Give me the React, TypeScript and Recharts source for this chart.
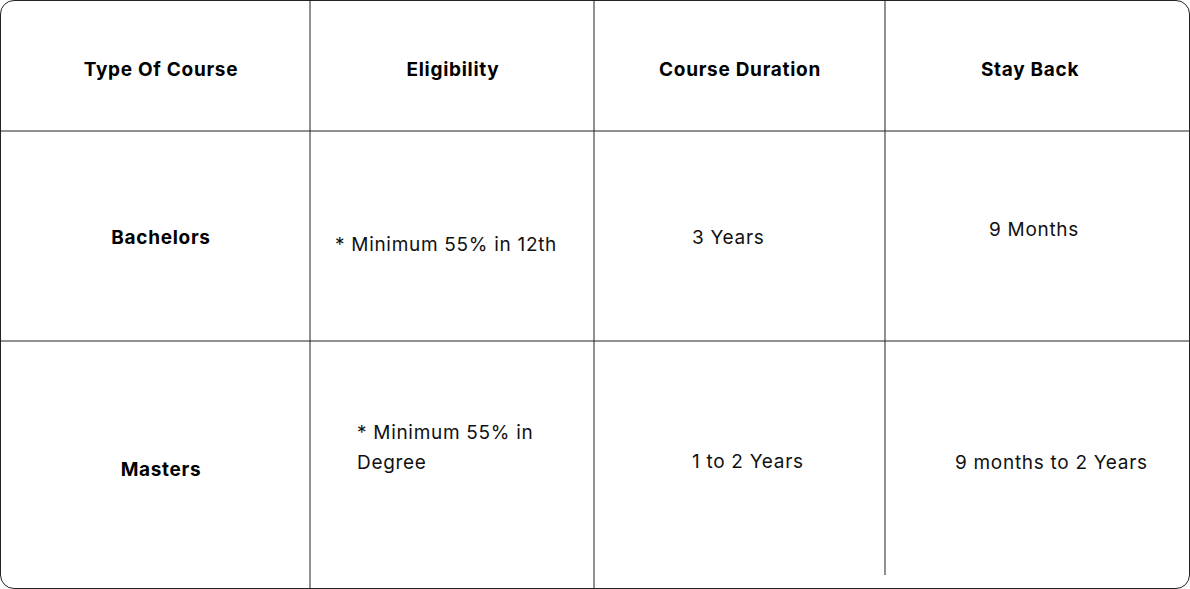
import { ComposedChart, XAxis, YAxis, Scatter, ReferenceLine } from 'recharts';

const W = 1190;
const H = 589;

// column dividers and row dividers (table units = pixels of the reference)
const columnLines = [310, 594, 885];
const rowLines = [131, 341];

const headers = ['Type Of Course', 'Eligibility', 'Course Duration', 'Stay Back'];
const headerX = [161, 453, 740, 1030];

const courses = ['Bachelors', 'Masters'];
const courseY = [237, 469];

const cells = [
  { x: 335, y: 244, text: '* Minimum 55% in 12th' },
  { x: 692, y: 237, text: '3 Years' },
  { x: 989, y: 229, text: '9 Months' },
  { x: 357, y: 432, text: '* Minimum 55% in' },
  { x: 357, y: 462, text: 'Degree' },
  { x: 692, y: 461, text: '1 to 2 Years' },
  { x: 955, y: 462, text: '9 months to 2 Years' },
];

const boldData = [
  ...headers.map((t, i) => ({ x: headerX[i], y: 69, text: t })),
  ...courses.map((t, i) => ({ x: 161, y: courseY[i], text: t })),
];

const FONT = 'Inter, "Open Sans", sans-serif';

const BoldText = (p: any) => (
  <text x={p.cx} y={p.cy} dy="0.35em" textAnchor="middle" fontFamily={FONT} fontWeight={700} fontSize={19} letterSpacing={0.7} fill="#000">
    {p.payload.text}
  </text>
);

const PlainText = (p: any) => (
  <text x={p.cx} y={p.cy} dy="0.35em" textAnchor="start" fontFamily={FONT} fontSize={19} letterSpacing={0.7} fill="#111">
    {p.payload.text}
  </text>
);

export default function App() {
  return (
    <div style={{ position: 'absolute', left: 0, top: 0, width: W, height: H, background: '#fff' }}>
      <div style={{ position: 'absolute', left: 0, top: 0, width: W - 2, height: H - 2, border: '1px solid #222', borderRadius: 14 }} />
      <ComposedChart width={W} height={H} margin={{ top: 0, right: 0, bottom: 0, left: 0 }}>
        <XAxis type="number" dataKey="x" domain={[0, W]} hide />
        <YAxis type="number" dataKey="y" domain={[0, H]} reversed hide />
        {columnLines.map((x, i) => (
          <ReferenceLine key={'c' + i} segment={[{ x, y: 0 }, { x, y: i === 2 ? 575 : H }]} stroke="#222" strokeWidth={1} />
        ))}
        {rowLines.map((y) => (
          <ReferenceLine key={'r' + y} y={y} stroke="#222" strokeWidth={1} />
        ))}
        <Scatter data={boldData} shape={BoldText} isAnimationActive={false} />
        <Scatter data={cells} shape={PlainText} isAnimationActive={false} />
      </ComposedChart>
    </div>
  );
}
